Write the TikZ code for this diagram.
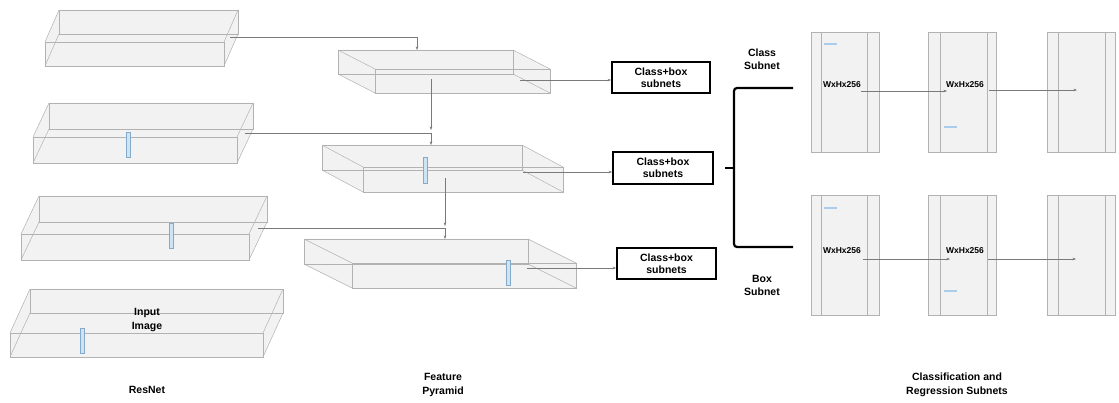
\documentclass[tikz,border=0pt]{standalone}
\usepackage{fontspec}
\setmainfont{Liberation Sans}
\usetikzlibrary{arrows.meta}

\definecolor{slabfill}{HTML}{F2F2F2}
\definecolor{slabedge}{HTML}{B2B2B2}
\definecolor{barfill}{HTML}{CDE4F5}
\definecolor{baredge}{HTML}{86AACA}
\definecolor{markfill}{HTML}{A9CDEA}
\definecolor{connline}{HTML}{7A7A7A}

% transparent box: front face (#1,#2)-(#3,#4), back face shifted by (#5,#6)
\newcommand\slab[6]{%
  \fill[slabfill] (#1,#2) rectangle (#3,#4);
  \fill[slabfill] ({#1+#5},{#2+#6}) rectangle ({#3+#5},{#4+#6});
  \fill[slabfill] (#1,#2) -- ({#1+#5},{#2+#6}) -- ({#3+#5},{#2+#6}) -- (#3,#2) -- cycle;
  \fill[slabfill] (#1,#4) -- ({#1+#5},{#4+#6}) -- ({#3+#5},{#4+#6}) -- (#3,#4) -- cycle;
  \fill[slabfill] (#1,#2) -- ({#1+#5},{#2+#6}) -- ({#1+#5},{#4+#6}) -- (#1,#4) -- cycle;
  \fill[slabfill] (#3,#2) -- ({#3+#5},{#2+#6}) -- ({#3+#5},{#4+#6}) -- (#3,#4) -- cycle;
  \draw[slabline] (#1,#2) rectangle (#3,#4);
  \draw[slabline] ({#1+#5},{#2+#6}) rectangle ({#3+#5},{#4+#6});
  \draw[slabline] (#1,#2) -- ({#1+#5},{#2+#6}) (#3,#2) -- ({#3+#5},{#2+#6})
                  (#1,#4) -- ({#1+#5},{#4+#6}) (#3,#4) -- ({#3+#5},{#4+#6});
}

\begin{document}
\begin{tikzpicture}[x=1pt,y=-1pt,
  slabline/.style={draw=slabedge,line width=0.5pt},
  bar/.style={fill=barfill,draw=baredge,line width=0.5pt},
  anchortick/.style={fill=markfill,draw=none},
  conn/.style={draw=connline,line width=0.5pt,-{Stealth[length=3.5pt,width=2.6pt]}},
  subnetbox/.style={draw=black,line width=1.8pt,minimum width=98pt,minimum height=31pt,
    align=center,inner sep=0pt,font=\bfseries\fontsize{10.5}{12}\selectfont},
  caption/.style={align=center,inner sep=0pt,font=\bfseries\fontsize{10.5}{14}\selectfont},
  sidelabel/.style={align=center,inner sep=0pt,font=\bfseries\fontsize{10.5}{13}\selectfont},
  dimlabel/.style={inner sep=0pt,font=\bfseries\fontsize{8.5}{10}\selectfont},
  panel/.style={draw=slabedge,fill=slabfill,line width=0.6pt,minimum width=68pt,
    minimum height=120pt,inner sep=0pt},
  brace/.style={draw=black,line width=2.2pt,rounded corners=3pt},
]
\useasboundingbox (0,0) rectangle (1119,403);

% ---------------- ResNet stages ----------------
\slab{45}{42}{224}{66}{14}{-32}
\slab{33}{137}{237}{163}{16}{-34}
\slab{21}{234}{249}{260}{18}{-38}
\slab{10}{333}{263}{357}{20}{-44}
\draw[bar] (126,132) rectangle (130,157);
\draw[bar] (169,223) rectangle (173,248);
\draw[bar] (80,328) rectangle (84,353);

\node[caption] (input) at (147,320) {Input\\Image};
\node[caption] (resnet) at (147,390) {ResNet};

% ---------------- Feature pyramid levels ----------------
\slab{375}{69}{550}{93}{-37}{-19}
\slab{363}{167}{563}{192}{-41}{-22}
\slab{352}{263}{576}{288}{-48}{-24}
\draw[bar] (423,157) rectangle (427,183);
\draw[bar] (506,260) rectangle (510,285);

\node[caption] (fpn) at (443,385) {Feature\\Pyramid};

% connection points on the boxes
\coordinate (r1out) at (230,37);
\coordinate (r2out) at (245,133);
\coordinate (r3out) at (258,228);
\coordinate (f1top) at (417,50);
\coordinate (f1mid) at (431,79);
\coordinate (f1end) at (431,130);
\coordinate (f2top) at (431,145);
\coordinate (f2mid) at (445,178);
\coordinate (f2end) at (445,226);
\coordinate (f3top) at (445,239);
\coordinate (f1out) at (520,80);
\coordinate (f2out) at (523,172);
\coordinate (f3out) at (527,268);

% ---------------- Class+box heads ----------------
\node[subnetbox] (cb1) at (661,77.5) {Class+box\\subnets};
\node[subnetbox,minimum width=100pt,minimum height=32pt] (cb2) at (663,168) {Class+box\\subnets};
\node[subnetbox,minimum width=99pt] (cb3) at (666.5,263.5) {Class+box\\subnets};

% lateral and top-down connections
\draw[conn] (r1out) -| (f1top);
\draw[conn] (f1mid) -- (f1end);
\draw[conn] (r2out) -| (f2top);
\draw[conn] (f2mid) -- (f2end);
\draw[conn] (r3out) -| (f3top);
\draw[conn] (f1out) -- (f1out -| cb1.west);
\draw[conn] (f2out) -- (f2out -| cb2.west);
\draw[conn] (f3out) -- (f3out -| cb3.west);

% ---------------- split into the two subnets ----------------
\coordinate (brtop) at (793,88);
\coordinate (brbot) at (793,247);
\coordinate (brspine) at (734,168);
\coordinate (brtip) at (725,168);
\draw[brace] (brtop) -| (brspine |- brbot) -- (brbot);
\draw[black,line width=2.2pt] (brtip) -- (brspine);

\node[sidelabel] (classlbl) at (762,59.5) {Class\\Subnet};
\node[sidelabel] (boxlbl) at (762,285.5) {Box\\Subnet};

% ---------------- subnet feature maps ----------------
\foreach \row/\yc in {a/92,b/255.5}{
  \node[panel] (p1\row) at (845,\yc) {};
  \node[panel] (p2\row) at (962.5,\yc) {};
  \node[panel] (p3\row) at (1081.5,\yc) {};
  \draw[slabline] ([xshift=11pt]p1\row.north west) -- ([xshift=11pt]p1\row.south west)
                  ([xshift=-12pt]p1\row.north east) -- ([xshift=-12pt]p1\row.south east);
  \draw[slabline] ([xshift=12pt]p2\row.north west) -- ([xshift=12pt]p2\row.south west)
                  ([xshift=-10pt]p2\row.north east) -- ([xshift=-10pt]p2\row.south east);
  \draw[slabline] ([xshift=11pt]p3\row.north west) -- ([xshift=11pt]p3\row.south west)
                  ([xshift=-11pt]p3\row.north east) -- ([xshift=-11pt]p3\row.south east);
}
\fill[anchortick] (824,43.5) rectangle (837,45);
\fill[anchortick] (944,126.5) rectangle (957,128);
\fill[anchortick] (824,207.5) rectangle (837,209);
\fill[anchortick] (944,290.5) rectangle (957,292);

\node[dimlabel] (d1a) at (842,85) {WxHx256};
\node[dimlabel] (d2a) at (965,85) {WxHx256};
\node[dimlabel] (d1b) at (842,251) {WxHx256};
\node[dimlabel] (d2b) at (965,251) {WxHx256};

\coordinate (a1s) at (861,91);
\coordinate (a1e) at (947,91);
\coordinate (a2s) at (989,90);
\coordinate (a2e) at (1077,90);
\coordinate (b1s) at (863,259);
\coordinate (b1e) at (950,259);
\coordinate (b2s) at (988,259);
\coordinate (b2e) at (1076,259);
\draw[conn] (a1s) -- (a1e);
\draw[conn] (a2s) -- (a2e);
\draw[conn] (b1s) -- (b1e);
\draw[conn] (b2s) -- (b2e);

\node[caption] (heads) at (957,385) {Classification and\\Regression Subnets};
\end{tikzpicture}
\end{document}
